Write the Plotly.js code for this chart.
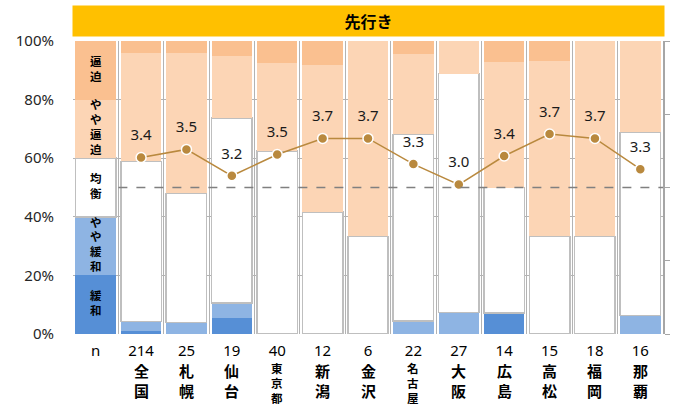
<!DOCTYPE html>
<html>
<head>
<meta charset="utf-8">
<script src="https://cdn.plot.ly/plotly-3.0.1.min.js"></script>
<style>html,body{margin:0;padding:0;background:#fff;}#chart{width:678px;height:410px;}</style>
</head>
<body>
<div id="chart"></div>
<script>
// ---- data ----
const categories = ['n','全国','札幌','仙台','東京都','新潟','金沢','名古屋','大阪','広島','高松','福岡','那覇'];
const nCounts = ['n', '214','25','19','40','12','6','22','27','14','15','18','16'];
const seriesNames = ['緩和','やや緩和','均衡','やや逼迫','逼迫'];
const kanwa       = [20, 0.9, 0.0, 5.3, 0.0, 0.0, 0.0, 0.0, 0.0, 7.1, 0.0, 0.0, 0.0];
const yayaKanwa   = [20, 3.3, 4.0, 5.3, 0.0, 0.0, 0.0, 4.5, 7.4, 0.0, 0.0, 0.0, 6.3];
const kinkou      = [20, 54.7, 44.0, 63.2, 62.5, 41.7, 33.3, 63.6, 81.5, 42.9, 33.3, 33.3, 62.5];
const yayaHippaku = [20, 36.9, 48.0, 21.1, 30.0, 50.0, 66.7, 27.3, 11.1, 42.9, 60.0, 66.7, 31.2];
const hippaku     = [20, 4.2, 4.0, 5.3, 7.5, 8.3, 0.0, 4.5, 0.0, 7.1, 6.7, 0.0, 0.0];
const diValues    = [3.41, 3.52, 3.16, 3.45, 3.67, 3.67, 3.32, 3.04, 3.43, 3.73, 3.67, 3.25];
const yTickVals = [0, 20, 40, 60, 80, 100];
const yTickText = ['0%', '20%', '40%', '60%', '80%', '100%'];
const titleText = '先行き';

// ---- styles ----
const FONT = 'Noto Sans, Noto Sans CJK JP, sans-serif';
const JFONT = 'Noto Sans CJK JP, Noto Sans, sans-serif';
const colors = ['#568fd6', '#8eb4e3', '#ffffff', '#fcd5b5', '#fac090'];
const lineColor = '#b9893e';
const gridColor = '#b3b3b3';

const series = [kanwa, yayaKanwa, kinkou, yayaHippaku, hippaku];
const traces = series.map((vals, i) => ({
  type: 'bar',
  name: seriesNames[i],
  x: categories,
  y: vals,
  marker: {
    color: colors[i],
    line: i === 2 ? {color: '#bfbfbf', width: 1.5} : {width: 0}
  },
  hoverinfo: 'skip',
  showlegend: false
}));

// helper trace that makes the boundary grid axis exist
traces.push({type: 'scatter', mode: 'lines', x: [0], y: [null], xaxis: 'x2', yaxis: 'y',
  hoverinfo: 'skip', showlegend: false});

// legend labels inside the first column
const legendCol = categories[0];
let cum = 0;
const legY = [], legText = [];
series.forEach((vals, i) => {
  legY.push(cum + vals[0] / 2);
  cum += vals[0];
  legText.push('<b>' + seriesNames[i].split('').join('<br>') + '</b>');
});
traces.push({
  type: 'scatter', mode: 'text',
  x: legY.map(() => legendCol), y: legY,
  text: legText, textposition: 'middle center',
  textfont: {family: JFONT, size: 11.5, color: '#000'},
  hoverinfo: 'skip', showlegend: false
});

// DI line
const lineCats = categories.slice(1);
traces.push({
  type: 'scatter', mode: 'lines+markers',
  x: lineCats, y: diValues, yaxis: 'y2',
  line: {color: lineColor, width: 1.5},
  marker: {color: lineColor, size: 10, line: {color: '#ffffff', width: 1.5}},
  hoverinfo: 'skip', showlegend: false, cliponaxis: false
});
traces.push({
  type: 'scatter', mode: 'markers+text',
  x: lineCats, y: diValues, yaxis: 'y2',
  marker: {color: 'rgba(0,0,0,0)', size: 20},
  text: diValues.map(v => v.toFixed(1)),
  textposition: 'top center',
  textfont: {family: FONT, size: 15, color: '#1a1a1a'},
  hoverinfo: 'skip', showlegend: false, cliponaxis: false
});

// city-name labels under the n counts
const nameAnnotations = categories.slice(1).map(c => ({
  xref: 'x', yref: 'paper', x: c, y: 0, xanchor: 'center', yanchor: 'top',
  yshift: -25, showarrow: false, borderpad: 0,
  text: '<b>' + c.split('').join('<br>') + '</b>',
  font: {family: JFONT, size: c.length > 2 ? 11.5 : 15, color: '#000'}
}));

const boundaryVals = categories.slice(1).map((c, i) => i + 0.5);

const layout = {
  width: 678, height: 410,
  margin: {l: 73, r: 15, t: 41, b: 76},
  paper_bgcolor: '#ffffff', plot_bgcolor: '#ffffff',
  barmode: 'stack', bargap: 0.108,
  font: {family: FONT, color: '#1a1a1a'},
  xaxis: {
    type: 'category', range: [-0.5, 12.5],
    tickvals: categories, ticktext: nCounts,
    ticks: '', showgrid: false, showline: false, zeroline: false,
    tickfont: {family: FONT, size: 15, color: '#000'},
    ticklabelstandoff: 6,
    fixedrange: true
  },
  xaxis2: {
    type: 'linear', overlaying: 'x', anchor: 'y', range: [-0.5, 12.5],
    tickvals: boundaryVals, showticklabels: false, ticks: '',
    showgrid: true, gridcolor: gridColor, gridwidth: 1,
    zeroline: false, showline: false, fixedrange: true
  },
  yaxis: {
    range: [0, 100], tickvals: yTickVals, ticktext: yTickText,
    showgrid: true, gridcolor: gridColor, gridwidth: 1,
    zeroline: false, showline: false, ticks: '',
    ticklabelstandoff: 18,
    tickfont: {family: FONT, size: 15, color: '#262626'},
    fixedrange: true
  },
  yaxis2: {
    overlaying: 'y', side: 'right', range: [1, 5],
    tickvals: [1, 2, 3, 4, 5], showticklabels: false,
    ticks: 'outside', ticklen: 5, tickcolor: '#a6a6a6', tickwidth: 1,
    showline: true, linecolor: '#a6a6a6', linewidth: 1.5,
    showgrid: false, zeroline: false, fixedrange: true
  },
  shapes: [{
    type: 'line', xref: 'x2', yref: 'y2', x0: 0.5, x1: 12.5, y0: 3, y1: 3,
    line: {color: '#808080', width: 1.5, dash: 'dash'}, layer: 'above'
  }],
  annotations: [{
    xref: 'paper', yref: 'paper', x: 0.5, y: 1, xanchor: 'center', yanchor: 'bottom',
    yshift: 4, width: 591, height: 30, borderpad: 0,
    bgcolor: '#ffc000', showarrow: false,
    text: '<b>' + titleText + '</b>',
    font: {family: JFONT, size: 16, color: '#000'}
  }].concat(nameAnnotations)
};

Plotly.newPlot('chart', traces, layout, {displayModeBar: false, staticPlot: true});
</script>
</body>
</html>
